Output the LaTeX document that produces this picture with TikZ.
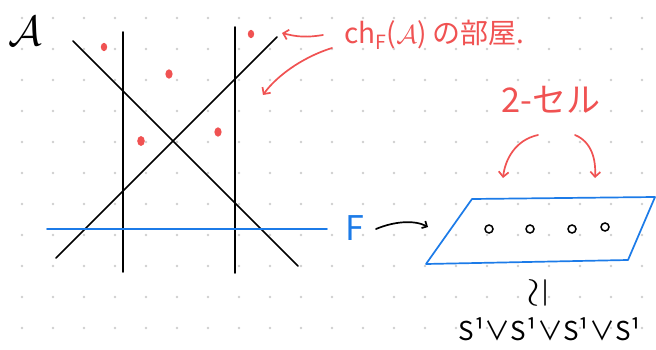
\documentclass[tikz,border=0pt]{standalone}
\usepackage{fontspec}
\usepackage{graphicx}
\setmainfont{Noto Sans CJK JP}
\usetikzlibrary{arrows.meta}
\definecolor{redink}{HTML}{F05252}
\definecolor{blueink}{HTML}{1C7BE8}
\definecolor{dotgray}{HTML}{CFCFCF}
\tikzset{
  ink/.style={line width=1.7pt, line cap=round, line join=round},
  redarrow/.style={ink, redink, -{Straight Barb[length=5pt,width=10pt]}},
  blackarrow/.style={ink, black, -{Straight Barb[length=4pt,width=8pt]}},
  hole/.style={circle, draw=black, line width=1.5pt, minimum size=8pt, inner sep=0pt},
  lbl/.style={inner sep=1pt}
}
\begin{document}
\begin{tikzpicture}[x=1pt,y=-1pt]
\useasboundingbox (0,0) rectangle (656,350);
\fill[white] (0,0) rectangle (656,350);
% dot grid
\foreach \i in {0,...,20}{
  \foreach \j in {0,...,10}{
    \fill[dotgray] (22+31*\i,18+31*\j) circle (1.4);
  }
}
% script A
\node[lbl] (calA) at (25,31) {\scalebox{4.2}{\normalsize$\mathcal{A}$}};
% arrangement lines
\coordinate (v1t) at (123,32); \coordinate (v1b) at (123,272);
\coordinate (v2t) at (235,27); \coordinate (v2b) at (235,273);
\coordinate (d1a) at (73,41);  \coordinate (d1b) at (298,266);
\coordinate (d2a) at (56,258); \coordinate (d2b) at (277,37);
\coordinate (hl) at (47,229);  \coordinate (hr) at (327,229);
\draw[ink] (v1t) -- (v1b);
\draw[ink] (v2t) -- (v2b);
\draw[ink] (d1a) -- (d1b);
\draw[ink] (d2a) -- (d2b);
\draw[ink, blueink] (hl) -- (hr);
% red chamber dots
\foreach \x/\y/\r in {104/47/3.2, 169/74/3.6, 251/34/3.2, 141/141/3.8, 218/132/3.6}{
  \fill[redink] (\x,\y) ellipse ({\r} and {\r*1.3});
}
% label ch_F(A)
\node[lbl, anchor=west, text=redink] (chlabel) at (343,35)
  {\fontsize{28}{28}\selectfont ch\textsubscript{F}(\scalebox{2.6}{\normalsize$\mathcal{A}$}) の部屋.};
\coordinate (t1) at (282,33);
\coordinate (t2) at (263,95);
\draw[redarrow] (323,35) coordinate (s1) to[bend left=12] (t1);
\draw[redarrow] (332,48) coordinate (s2)
  .. controls (300,58) and (275,78) .. (t2);
% F and parallelogram
\node[lbl, text=blueink] (F) at (355,228) {\fontsize{34}{34}\selectfont F};
\coordinate (p1) at (472,199);
\coordinate (p2) at (655,197);
\coordinate (p3) at (628,260);
\coordinate (p4) at (426,264);
\draw[ink, blueink] (p1) -- (p2) -- (p3) -- (p4) -- cycle;
\draw[blackarrow] (376,229) coordinate (fa) .. controls (395,221) and (415,220) .. (428,227);
\node[hole] (h1) at (489,229) {};
\node[hole] (h2) at (530,229) {};
\node[hole] (h3) at (572,229) {};
\node[hole] (h4) at (605,227) {};
% 2-cell label
\node[lbl, text=redink] (cell) at (551,100) {\fontsize{34}{34}\selectfont 2-セル};
\coordinate (c1) at (503,178);
\coordinate (c2) at (595,178);
\draw[redarrow] (538,135) .. controls (515,140) and (505,160) .. (c1);
\draw[redarrow] (575,135) .. controls (592,142) and (596,160) .. (c2);
% homotopy equivalent
\node[lbl, rotate=90] (simeq) at (538,293) {\scalebox{4}{\normalsize$\simeq$}};
\node[lbl] (wedge) at (550,329) {\fontsize{26}{26}\selectfont S¹∨S¹∨S¹∨S¹};
\end{tikzpicture}
\end{document}
